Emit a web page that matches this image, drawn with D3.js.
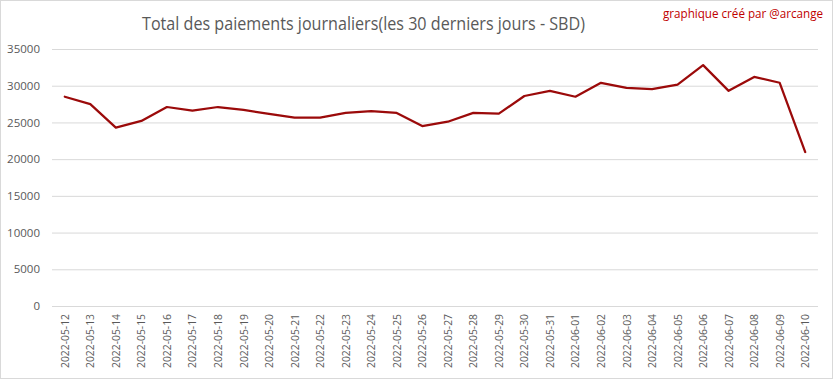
<!DOCTYPE html>
<html>
<head>
<meta charset="utf-8">
<script src="https://cdn.jsdelivr.net/npm/d3@7"></script>
<style>
  html, body { margin: 0; padding: 0; background: #fff; }
  svg { display: block; }
</style>
</head>
<body>
<svg id="chart" width="833" height="379"></svg>
<script>
const dates = ["2022-05-12","2022-05-13","2022-05-14","2022-05-15","2022-05-16","2022-05-17","2022-05-18","2022-05-19","2022-05-20","2022-05-21","2022-05-22","2022-05-23","2022-05-24","2022-05-25","2022-05-26","2022-05-27","2022-05-28","2022-05-29","2022-05-30","2022-05-31","2022-06-01","2022-06-02","2022-06-03","2022-06-04","2022-06-05","2022-06-06","2022-06-07","2022-06-08","2022-06-09","2022-06-10"];
const payments = [28500,27500,24300,25200,27100,26600,27100,26700,26150,25650,25650,26300,26550,26300,24500,25100,26300,26200,28600,29300,28500,30400,29700,29550,30150,32800,29300,31200,30400,20970];
const yTicks = [0,5000,10000,15000,20000,25000,30000,35000];
const titleText = "Total des paiements journaliers(les 30 derniers jours - SBD)";
const creditText = "graphique créé par @arcange";

const W = 833, H = 379;
const margin = {left: 52, right: 15, top: 49, bottom: 73};
const svg = d3.select("#chart");
const font = "'Open Sans', 'Liberation Sans', sans-serif";

svg.append("rect").attr("x",0.5).attr("y",0.5).attr("width",W-1).attr("height",H-1)
  .attr("fill","#fff").attr("stroke","#d9d9d9").attr("stroke-width",1);

const x = d3.scaleBand().domain(dates).range([margin.left, W - margin.right]);
const y = d3.scaleLinear().domain([0,35000]).range([H - margin.bottom, margin.top]);

// gridlines + y labels
const yAxis = d3.axisLeft(y).tickValues(yTicks).tickSize(-(W - margin.left - margin.right)).tickPadding(12).tickFormat(d3.format("d"));
const gy = svg.append("g").attr("transform",`translate(${margin.left},0)`).call(yAxis);
gy.select(".domain").remove();
gy.selectAll(".tick line").attr("stroke","#d9d9d9").attr("stroke-width",1);
gy.selectAll(".tick text").attr("fill","#595959").style("font-family",font).style("font-size","11.5px");

// x labels
const xAxis = d3.axisBottom(y.copy()).tickValues([]);
const gx = svg.append("g").attr("transform",`translate(0,${H - margin.bottom})`)
  .call(d3.axisBottom(x).tickSize(0).tickPadding(0));
gx.select(".domain").remove();
gx.selectAll(".tick text")
  .attr("fill","#595959").style("font-family",font).style("font-size","11.5px")
  .attr("transform","rotate(-90)")
  .attr("text-anchor","end")
  .attr("x",-8).attr("y",0).attr("dy","0.35em")
  .attr("textLength",54).attr("lengthAdjust","spacingAndGlyphs");

// line
const line = d3.line().x((d,i) => x(dates[i]) + x.bandwidth()/2).y(d => y(d));
svg.append("path").datum(payments).attr("d",line)
  .attr("fill","none").attr("stroke","#9b0a0a").attr("stroke-width",2.25)
  .attr("stroke-linejoin","round").attr("stroke-linecap","round");

// title
svg.append("text").attr("x",363.5).attr("y",30).attr("text-anchor","middle")
  .attr("fill","#595959").style("font-family",font).style("font-size","18px")
  .attr("textLength",443).attr("lengthAdjust","spacingAndGlyphs")
  .text(titleText);

// credit
svg.append("text").attr("x",823).attr("y",18).attr("text-anchor","end")
  .attr("fill","#c00000").style("font-family",font).style("font-size","12px")
  .attr("textLength",160).attr("lengthAdjust","spacingAndGlyphs")
  .text(creditText);
</script>
</body>
</html>
